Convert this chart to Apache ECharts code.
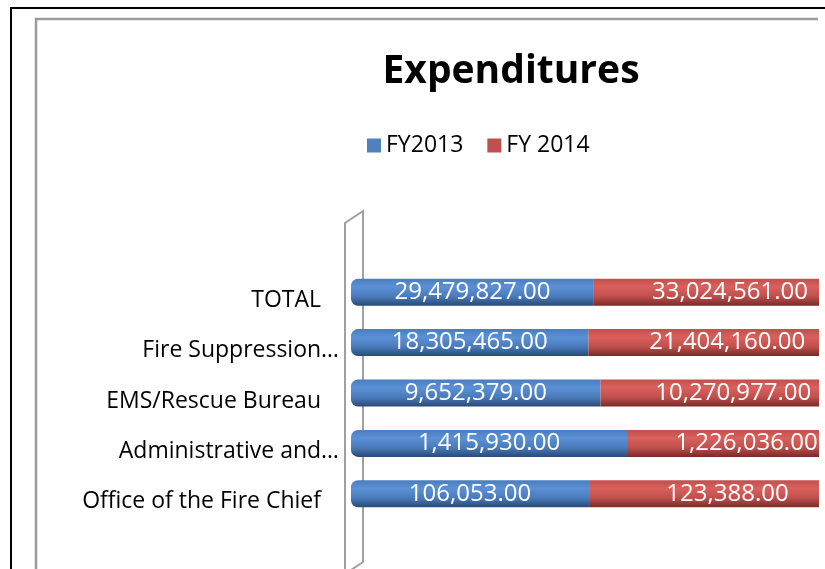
<!DOCTYPE html>
<html>
<head>
<meta charset="utf-8">
<script src="https://cdn.jsdelivr.net/npm/echarts@6/dist/echarts.min.js"></script>
<style>
html,body{margin:0;padding:0;background:#fff;overflow:hidden;}
#chart{width:880px;height:569px;}
</style>
</head>
<body>
<div id="chart"></div>
<script>
// Categories (bottom to top, as in Excel bar chart order)
const categories = ["Office of the Fire Chief", "Administrative and…", "EMS/Rescue Bureau", "Fire Suppression…", "TOTAL"];
const fy2013 = [106053, 1415930, 9652379, 18305465, 29479827];
const fy2014 = [123388, 1226036, 10270977, 21404160, 33024561];
const seriesNames = ["FY2013", "FY 2014"];
const titleText = "Expenditures";

const totals = fy2013.map((v, i) => v + fy2014[i]);
const share = (arr) => arr.map((v, i) => ({ value: v / totals[i] * 100, raw: v }));

const fmt = (n) => n.toLocaleString('en-US', { minimumFractionDigits: 2, maximumFractionDigits: 2 });

const FONT = "'Open Sans', 'DejaVu Sans', sans-serif";

const blueGrad = new echarts.graphic.LinearGradient(0, 0, 0, 1, [
  { offset: 0, color: '#4a7dbd' },
  { offset: 0.3, color: '#5b90d6' },
  { offset: 0.65, color: '#4a7cbb' },
  { offset: 1, color: '#294a75' }
]);
const redGrad = new echarts.graphic.LinearGradient(0, 0, 0, 1, [
  { offset: 0, color: '#c0504d' },
  { offset: 0.3, color: '#da605c' },
  { offset: 0.65, color: '#c0504d' },
  { offset: 1, color: '#7a2a28' }
]);

const labelStyle = {
  show: true,
  position: 'inside',
  color: '#ffffff',
  fontFamily: FONT,
  fontSize: 24,
  formatter: (p) => fmt(p.data.raw)
};

const chart = echarts.init(document.getElementById('chart'), null, { renderer: 'canvas' });
chart.setOption({
  animation: false,
  backgroundColor: '#ffffff',
  title: {
    text: titleText,
    left: 506,
    textAlign: 'center',
    top: 47,
    textStyle: { fontFamily: FONT, fontSize: 39, fontWeight: 'bold', color: '#000' }
  },
  legend: {
    data: [
      { name: seriesNames[0], itemStyle: { color: '#4f81bd' } },
      { name: seriesNames[1], itemStyle: { color: '#c0504d' } }
    ],
    left: 362,
    top: 129,
    itemWidth: 14,
    itemHeight: 14,
    itemGap: 24,
    icon: 'rect',
    textStyle: { fontFamily: FONT, fontSize: 23, color: '#000' }
  },
  grid: { left: 351, top: 267, width: 515, height: 252, containLabel: false },
  xAxis: { type: 'value', min: 0, max: 100, show: false },
  yAxis: {
    type: 'category',
    data: categories,
    axisLine: { show: false },
    axisTick: { show: false },
    axisLabel: {
      margin: 12,
      fontFamily: FONT,
      fontSize: 23,
      color: '#000',
      formatter: (v) => v.endsWith('…') ? '{b|' + v + '}' : '{a|' + v + '}',
      rich: {
        a: { fontFamily: FONT, fontSize: 23, color: '#000', padding: [16, 18, 0, 0] },
        b: { fontFamily: FONT, fontSize: 23, color: '#000', padding: [16, 0, 0, 0] }
      }
    }
  },
  series: [
    {
      name: seriesNames[0], type: 'bar', stack: 'total', barWidth: 27,
      data: share(fy2013),
      itemStyle: { color: blueGrad, borderRadius: [7, 0, 0, 7] },
      label: labelStyle
    },
    {
      name: seriesNames[1], type: 'bar', stack: 'total', barWidth: 27,
      data: share(fy2014),
      itemStyle: { color: redGrad },
      label: labelStyle
    }
  ],
  color: ['#4f81bd', '#c0504d'],
  graphic: [
    { type: 'polyline', z: -10, shape: { points: [[11, 600], [11, 8], [890, 8]] }, style: { stroke: '#000', lineWidth: 2, fill: null } },
    { type: 'polyline', z: -10, shape: { points: [[36, 600], [36, 19], [818, 19]] }, style: { stroke: '#9a9a9a', lineWidth: 2.5, fill: null } },
    { type: 'polyline', z: -10, shape: { points: [[345, 600], [345, 223], [363, 211], [363, 562], [348, 572]] }, style: { stroke: '#a0a0a0', lineWidth: 2, fill: null } },
    { type: 'rect', z: 100, shape: { x: 819, y: 20, width: 80, height: 560 }, style: { fill: '#ffffff' } }
  ]
});
</script>
</body>
</html>
